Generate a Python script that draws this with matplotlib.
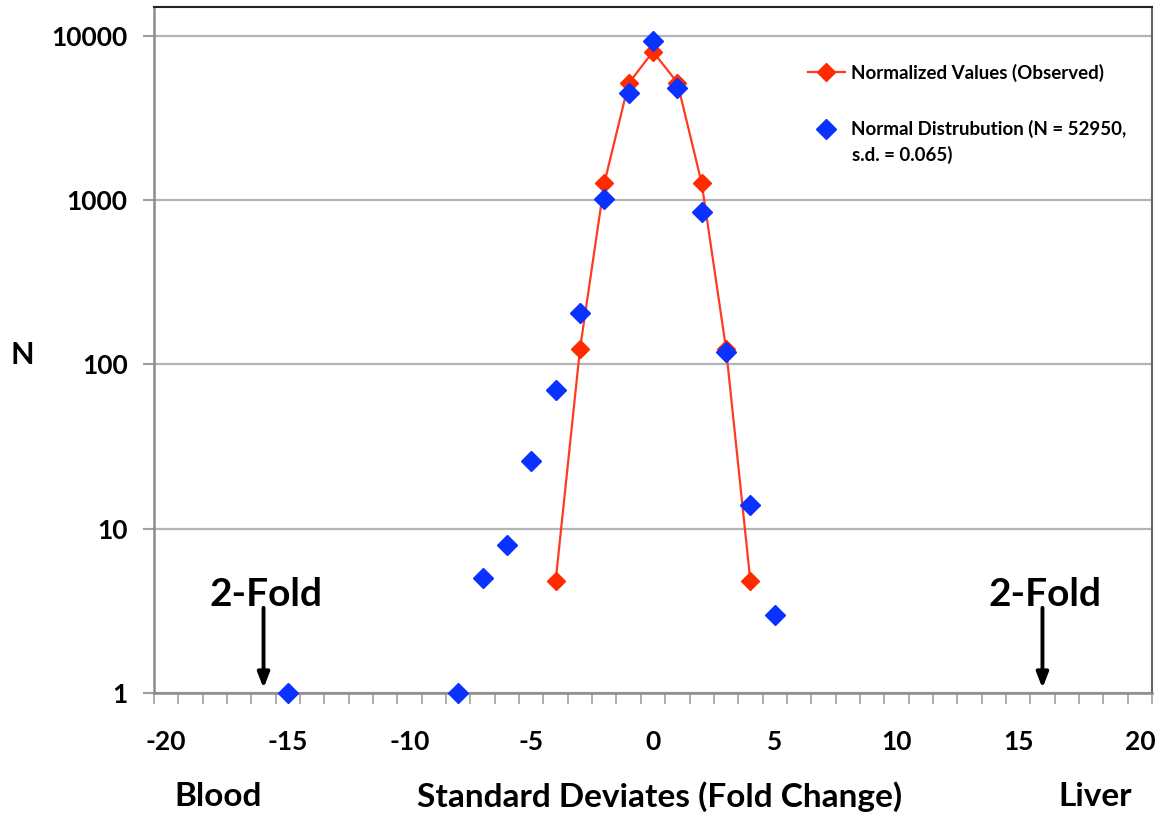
import matplotlib
matplotlib.use("Agg")
import matplotlib.pyplot as plt
from matplotlib.ticker import FixedLocator, NullFormatter
import numpy as np

plt.rcParams['font.family'] = ['Lato', 'DejaVu Sans']
plt.rcParams['font.weight'] = 'bold'
plt.rcParams['axes.unicode_minus'] = False

# Observed (normalized) values
obs_x = [-4, -3, -2, -1, 0, 1, 2, 3, 4]
obs_y = [4.8, 124, 1270, 5150, 8020, 5200, 1270, 125, 4.8]

# Normal distribution values
norm_x = [-15, -8, -7, -6, -5, -4, -3, -2, -1, 0, 1, 2, 3, 4, 5]
norm_y = [1, 1, 5, 8, 26, 70, 205, 1014, 4480, 9330, 4805, 845, 119, 14, 3]

x_ticks = [-20, -15, -10, -5, 0, 5, 10, 15, 20]
y_ticks = [1, 10, 100, 1000, 10000]
y_tick_labels = ['1', '10', '100', '1000', '10000']
fold_x = [-16, 16]

fig = plt.figure(figsize=(11.61, 8.16), dpi=100)
ax = fig.add_axes([154/1161, 1-693/816, (1152-154)/1161, (693-7)/816])

ax.set_yscale('log')
ax.set_xlim(-20.5, 20.5)
ax.set_ylim(1, 15000)

ax.plot(obs_x, obs_y, color='#ff3b1f', lw=1.6, marker='D', markersize=9,
        markerfacecolor='#ff2a00', markeredgecolor='#ff2a00',
        label='Normalized Values (Observed)', zorder=3)
ax.plot(norm_x, norm_y, ls='none', marker='D', markersize=10,
        markerfacecolor='#0a32ff', markeredgecolor='#0a32ff',
        label='Normal Distrubution (N = 52950,', zorder=4, clip_on=False)

# grid
ax.yaxis.set_major_locator(FixedLocator(y_ticks))
ax.yaxis.set_minor_locator(FixedLocator([]))
ax.set_yticklabels(y_tick_labels)
ax.grid(axis='y', which='major', color='#b4b4b4', lw=1.6)
ax.set_axisbelow(True)

ax.xaxis.set_major_locator(FixedLocator(x_ticks))
ax.xaxis.set_minor_locator(FixedLocator(np.arange(-20.5, 20.6, 1.0)))
ax.xaxis.set_minor_formatter(NullFormatter())
ax.tick_params(axis='x', which='major', length=0, pad=27, labelsize=19)
ax.tick_params(axis='x', which='minor', length=8, width=1.2, color='#a0a0a0', direction='out')
ax.tick_params(axis='y', which='major', length=8, width=1.5, color='#a0a0a0', pad=11, labelsize=19)

for lab in ax.get_xticklabels() + ax.get_yticklabels():
    lab.set_fontweight('bold')

for s in ['left', 'bottom']:
    ax.spines[s].set_color('#8c8c8c')
    ax.spines[s].set_linewidth(1.8)
ax.spines['top'].set_color('#222222')
ax.spines['top'].set_linewidth(1.5)
ax.spines['right'].set_color('#666666')
ax.spines['right'].set_linewidth(1.5)

# 2-Fold annotations
for fx in fold_x:
    ax.annotate('', xy=(fx, 1.07), xytext=(fx, 3.3),
                arrowprops=dict(arrowstyle='-|>,head_length=0.9,head_width=0.35',
                                color='black', lw=2.8, shrinkA=0, shrinkB=0))
    ax.text(fx + 0.1, 3.95, '2-Fold', ha='center', va='center', fontsize=28, fontweight='bold')

# Axis labels
fig.text(22/1161, 1-355/816, 'N', ha='center', va='center', fontsize=22, fontweight='bold')
fig.text(218/1161, 1-797/816, 'Blood', ha='center', va='center', fontsize=24, fontweight='bold')
fig.text(660/1161, 1-797/816, 'Standard Deviates (Fold Change)', ha='center', va='center', fontsize=24, fontweight='bold')
fig.text(1095/1161, 1-797/816, 'Liver', ha='center', va='center', fontsize=24, fontweight='bold')

leg = ax.legend(loc='upper left', bbox_to_anchor=((800-154)/998, 1-(56-7)/686),
                frameon=False, fontsize=13.5, handlelength=2.0, handletextpad=0.3,
                labelspacing=2.05, borderaxespad=0)
for t in leg.get_texts():
    t.set_fontweight('bold')
fig.text(852/1161, 1-155/816, 's.d. = 0.065)', ha='left', va='center', fontsize=13.5, fontweight='bold')

fig.savefig('out.png', dpi=100)
